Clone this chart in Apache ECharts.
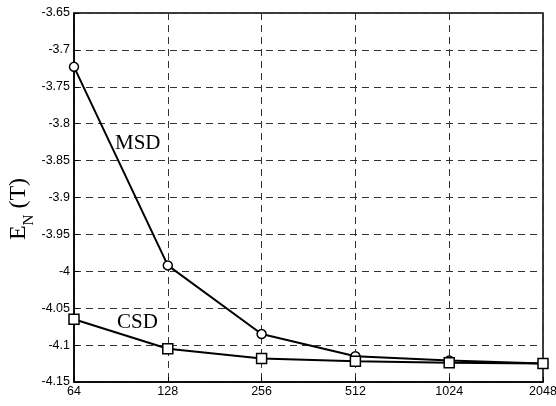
<!DOCTYPE html>
<html>
<head>
<meta charset="utf-8">
<script src="https://cdn.jsdelivr.net/npm/echarts@6/dist/echarts.min.js"></script>
<style>html,body{margin:0;padding:0;background:#fff}#c{width:556px;height:406px}</style>
</head>
<body>
<div id="c"></div>
<script>
var categories = ['64', '128', '256', '512', '1024', '2048'];
var msdValues = [-3.723, -3.992, -4.085, -4.115, -4.121, -4.125];
var csdValues = [-4.065, -4.105, -4.118, -4.122, -4.124, -4.125];
var yMin = -4.15, yMax = -3.65, yStep = 0.05;

var chart = echarts.init(document.getElementById('c'));
var serif = 'Liberation Serif, Times New Roman, serif';
var gridLine = {show: true, lineStyle: {color: '#333', width: 1, type: [7, 5]}};
var tickFont = {color: '#000', fontFamily: 'Liberation Sans, Arial, sans-serif', fontSize: 12.5};
chart.setOption({
  animation: false,
  backgroundColor: '#fff',
  grid: {left: 74, right: 13, top: 13, bottom: 24, show: true, borderColor: '#000', borderWidth: 1.5,
         backgroundColor: 'transparent', containLabel: false, outerBoundsMode: 'none'},
  xAxis: {
    type: 'category', data: categories, boundaryGap: false,
    axisLine: {lineStyle: {color: '#000', width: 1.5}},
    axisTick: {inside: true, length: 5, lineStyle: {color: '#000'}},
    axisLabel: Object.assign({margin: 3}, tickFont),
    splitLine: gridLine
  },
  yAxis: {
    type: 'value', min: yMin, max: yMax, interval: yStep,
    axisLine: {show: true, lineStyle: {color: '#000', width: 1.5}},
    axisTick: {show: true, inside: true, length: 5, lineStyle: {color: '#000'}},
    axisLabel: Object.assign({margin: 4, formatter: function (v) { return String(parseFloat(v.toFixed(2))); }}, tickFont),
    splitLine: gridLine
  },
  series: [
    {name: 'MSD', type: 'line', data: msdValues, symbol: 'circle', symbolSize: 9,
     itemStyle: {color: '#fff', borderColor: '#000', borderWidth: 1.5},
     lineStyle: {color: '#000', width: 2}, z: 3},
    {name: 'CSD', type: 'line', data: csdValues, symbol: 'rect', symbolSize: 10,
     itemStyle: {color: '#fff', borderColor: '#000', borderWidth: 1.5},
     lineStyle: {color: '#000', width: 2}, z: 4}
  ],
  graphic: [
    {type: 'text', x: 31, y: 209, rotation: Math.PI / 2,
     style: {text: '{a|E}{b|N}{a| (T)}', align: 'center', verticalAlign: 'bottom',
       rich: {
         a: {fontFamily: serif, fontSize: 24, fill: '#000', verticalAlign: 'bottom', lineHeight: 24},
         b: {fontFamily: serif, fontSize: 15, fill: '#000', verticalAlign: 'bottom', lineHeight: 24, padding: [0, 0, -6, 0]}
       }}},
    {type: 'text', left: 115, top: 133, style: {text: 'MSD', fontFamily: serif, fontSize: 21, fill: '#000'}},
    {type: 'text', left: 117, top: 312, style: {text: 'CSD', fontFamily: serif, fontSize: 21, fill: '#000'}}
  ]
});
</script>
</body>
</html>
